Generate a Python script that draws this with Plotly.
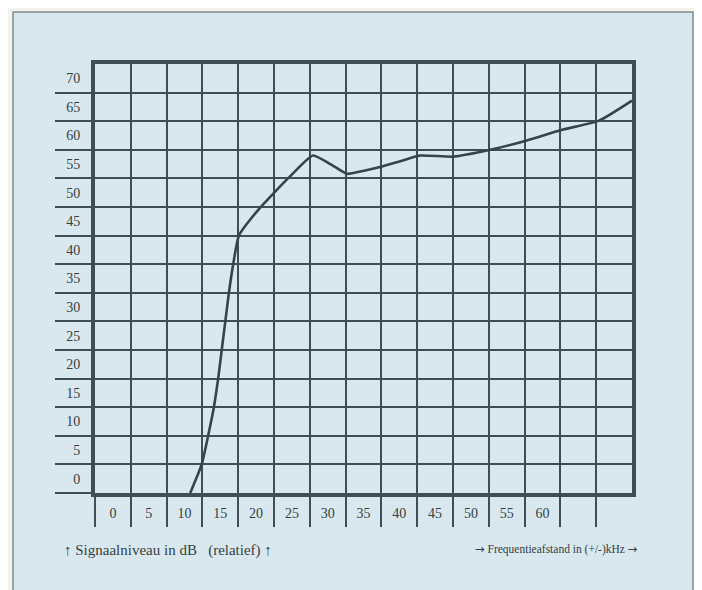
import plotly.graph_objects as go

# Data
freq_khz = [13.3, 14.9, 15.8, 16.6, 17.2, 17.7, 18.2, 18.7, 19.3, 20.1, 22.8, 25.4, 27.2,
            30.45, 33.0, 35.2, 37.4, 39.8, 42.4, 45.4, 50.0, 55.2, 60.2, 65.25, 70.4, 75.0]
level_db = [0, 5, 10, 15, 20, 25, 30, 35, 40, 45, 49.5, 53, 55.3,
            59.0, 57.4, 55.8, 56.3, 57.0, 57.9, 59.0, 58.8, 60.0, 61.6, 63.5, 65.1, 68.6]

grid_x = list(range(0, 75, 5))          # grid lines / separators on x
grid_y = list(range(0, 75, 5))          # grid lines / ticks on y
x_labels = [str(v) for v in range(0, 65, 5)]
y_labels = [str(v) for v in range(0, 75, 5)]

ARW = '<span style="font-family:DejaVu Sans">→</span>'
x_title = ARW + " Frequentieafstand in (+/-)kHz " + ARW
y_title = "↑ Signaalniveau in dB \u00a0\u00a0(relatief) ↑"

INK = "#3e4e56"
TXT = "#33403f"
BG = "#d9e8ef"
FONT = "Liberation Serif"

fig = go.Figure()
fig.add_trace(go.Scatter(
    x=freq_khz, y=level_db, mode="lines",
    line=dict(color="#34444c", width=2.6, shape="spline", smoothing=0.5),
    hoverinfo="skip", showlegend=False, xaxis="x", yaxis="y"))
# invisible companion so the label axes are drawn
fig.add_trace(go.Scatter(
    x=freq_khz, y=level_db, mode="lines",
    line=dict(color="rgba(0,0,0,0)", width=0),
    hoverinfo="skip", showlegend=False, xaxis="x2", yaxis="y2"))

# page is offset by the 8px body margin
OFF = 8
W, H = 694, 582
L, T = 95 - OFF, 64 - OFF
pw, ph = 537, 429
R = W - L - pw
B = H - T - ph

def px(p):
    return (p - OFF - L) / pw

def py(p):
    return (H - B - (p - OFF)) / ph

fig.update_layout(
    width=W, height=H,
    margin=dict(l=L, r=R, t=T, b=B),
    paper_bgcolor="#f4f4ef",
    plot_bgcolor=BG,
    font=dict(family=FONT, color=TXT, size=14),
    xaxis=dict(range=[0, 75], tickvals=grid_x, showticklabels=False,
               ticks="outside", ticklen=30, tickwidth=1.6, tickcolor=INK,
               showgrid=True, gridcolor=INK, gridwidth=1.8,
               showline=True, linecolor=INK, linewidth=3.5, mirror=True,
               zeroline=False, fixedrange=True),
    yaxis=dict(range=[0, 75], tickvals=grid_y, showticklabels=False,
               ticks="outside", ticklen=36, tickwidth=1.6, tickcolor=INK,
               showgrid=True, gridcolor=INK, gridwidth=1.8,
               showline=True, linecolor=INK, linewidth=3.5, mirror=True,
               zeroline=False, fixedrange=True),
    xaxis2=dict(range=[0, 75], overlaying="x", side="bottom",
                tickvals=[v + 2.5 for v in range(0, 65, 5)], ticktext=x_labels,
                ticks="outside", ticklen=7, tickcolor="rgba(0,0,0,0)",
                showgrid=False, showline=False, zeroline=False,
                tickfont=dict(family=FONT, size=14, color=TXT), fixedrange=True),
    yaxis2=dict(range=[0, 75], overlaying="y", side="left",
                tickvals=[v + 2.5 for v in range(0, 75, 5)], ticktext=y_labels,
                ticks="outside", ticklen=11, tickcolor="rgba(0,0,0,0)",
                showgrid=False, showline=False, zeroline=False,
                tickfont=dict(family=FONT, size=14, color=TXT), fixedrange=True),
    shapes=[dict(type="rect", xref="paper", yref="paper", layer="below",
                 x0=px(13), x1=px(693), y0=py(640), y1=py(12),
                 fillcolor=BG, line=dict(color="#7f8c90", width=1.5))],
    annotations=[
        dict(text=y_title, xref="paper", yref="paper", x=px(62), y=py(550),
             xanchor="left", yanchor="middle", showarrow=False,
             font=dict(family=FONT, size=15, color=TXT)),
        dict(text=x_title, xref="paper", yref="paper", x=px(640), y=py(549),
             xanchor="right", yanchor="middle", showarrow=False,
             font=dict(family=FONT, size=11.5, color=TXT)),
    ],
)

fig.write_html("out.html")
